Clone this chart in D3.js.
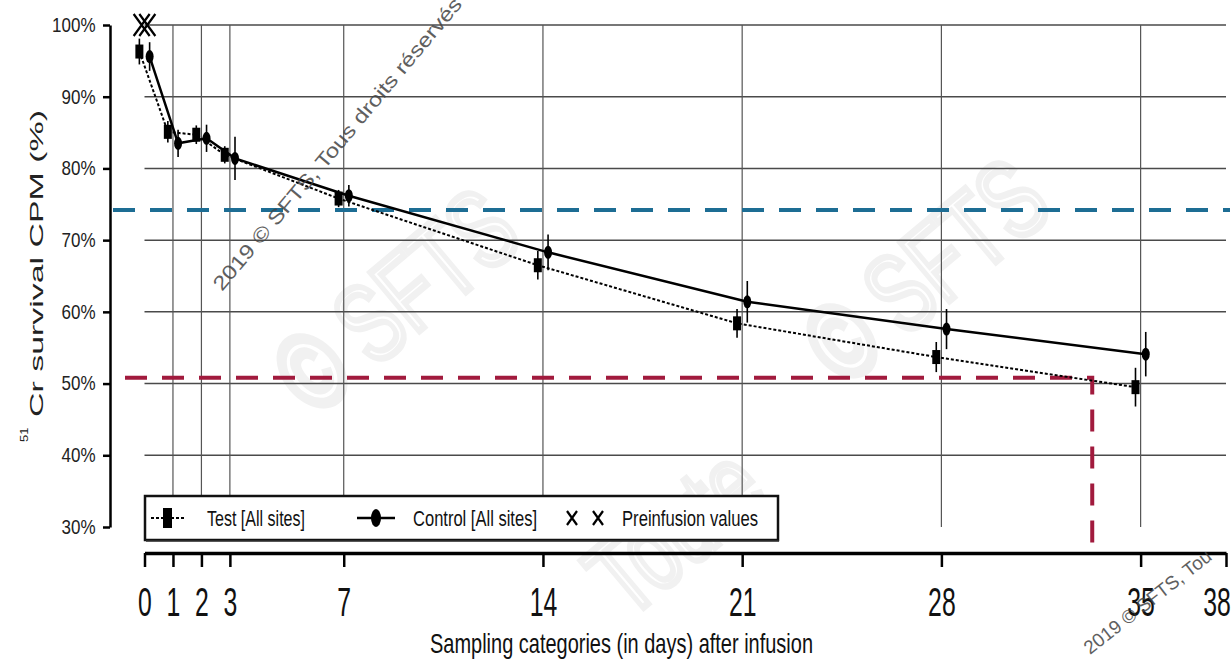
<!DOCTYPE html>
<html>
<head>
<meta charset="utf-8">
<script src="https://cdn.jsdelivr.net/npm/d3@7"></script>
<style>
  body { margin: 0; background: #fff; }
  svg { display: block; }
  text { font-family: "Liberation Sans Narrow", "Liberation Sans", Arial, sans-serif; fill: #111; }
</style>
</head>
<body>
<div id="chart"></div>
<script>

// sampling days
var days = [0, 1, 2, 3, 7, 14, 21, 28, 35];

// Test [All sites] - mean % and half error bar
var testMean = [96.3, 85.1, 84.7, 81.9, 75.8, 66.5, 58.4, 53.7, 49.5];
var testErr = [1.8, 1.5, 1.3, 1.2, 1.2, 2.0, 2.0, 2.1, 2.7];

// Control [All sites]
var ctrlMean = [95.6, 83.5, 84.2, 81.4, 76.2, 68.3, 61.4, 57.6, 54.1];
var ctrlErr = [2.0, 1.9, 1.9, 3.0, 1.5, 2.5, 2.9, 2.8, 3.1];

// preinfusion values (day 0)
var preDays = [0, 0];
var preValues = [100, 100];

var xTicks = [0, 1, 2, 3, 7, 14, 21, 28, 35, 38];
var yTicks = [30, 40, 50, 60, 70, 80, 90, 100];
var gridY = [40, 50, 60, 70, 80, 90, 100];
var gridX = [1, 2, 3, 7, 14, 21, 28, 35];

var blueRef = 74.2;
var redRef = 50.8;
var redDay = 33.3;

var width = 1231,
    height = 666;

var svg = d3.select("#chart").append("svg")
    .attr("width", width)
    .attr("height", height);

var x = d3.scaleLinear().domain([0, 38]).range([144.5, 1226]);
var y = d3.scaleLinear().domain([30, 100]).range([527, 25]);

var shift = 0.18; // side-by-side offset of the two groups

// faint background watermark
var wm = svg.append("g").attr("class", "watermark");
[[420, 330, "© SFTS"], [950, 300, "© SFTS"], [700, 560, "Toute"]].forEach(function(w){
    wm.append("text")
	.attr("transform", "translate(" + w[0] + "," + w[1] + ") rotate(-40) scale(0.7,1)")
	.attr("text-anchor", "middle")
	.style("font-family", "Liberation Sans, Arial, sans-serif")
	.style("font-size", "110px")
	.style("fill", "none")
	.style("stroke", "#f1f1f1")
	.style("stroke-width", 7)
	.text(w[2]);
});

// grid
var grid = svg.append("g").attr("class", "grid");
grid.selectAll(".hline")
    .data(gridY)
    .enter()
    .append("line")
    .attr("x1", x(0)).attr("x2", x(38))
    .attr("y1", function(d){ return y(d); })
    .attr("y2", function(d){ return y(d); })
    .style("stroke", "#4a4a4a")
    .style("stroke-width", 1.5);

grid.selectAll(".vline")
    .data(gridX)
    .enter()
    .append("line")
    .attr("x1", function(d){ return x(d); })
    .attr("x2", function(d){ return x(d); })
    .attr("y1", y(100)).attr("y2", y(30))
    .style("stroke", "#555")
    .style("stroke-width", 1.2);

// reference lines
svg.append("line")
    .attr("x1", 113).attr("x2", 1230)
    .attr("y1", y(blueRef)).attr("y2", y(blueRef))
    .style("stroke", "#1d6d94")
    .style("stroke-width", 4)
    .style("stroke-dasharray", "22,15");

svg.append("path")
    .attr("d", "M125," + y(redRef) + "H" + x(redDay) + "V548")
    .style("fill", "none")
    .style("stroke", "#a11a3d")
    .style("stroke-width", 4)
    .style("stroke-dasharray", "22,15");

// series
var series = [
    { name: "test", mean: testMean, err: testErr, dx: -shift, dash: "3,2", width: 2 },
    { name: "ctrl", mean: ctrlMean, err: ctrlErr, dx: shift, dash: null, width: 2.5 }
];

var line = d3.line()
    .x(function(d){ return x(d.day); })
    .y(function(d){ return y(d.v); });

series.forEach(function(s){
    var pts = days.map(function(d, i){
	return { day: d + s.dx, v: s.mean[i], e: s.err[i] };
    });
    var g = svg.append("g").attr("class", "series-" + s.name);

    g.append("path")
	.datum(pts)
	.attr("d", line)
	.style("fill", "none")
	.style("stroke", "#000")
	.style("stroke-width", s.width)
	.style("stroke-dasharray", s.dash);

    g.selectAll(".err")
	.data(pts)
	.enter()
	.append("line")
	.attr("x1", function(d){ return x(d.day); })
	.attr("x2", function(d){ return x(d.day); })
	.attr("y1", function(d){ return y(d.v + d.e); })
	.attr("y2", function(d){ return y(d.v - d.e); })
	.style("stroke", "#000")
	.style("stroke-width", 1.6);

    if (s.name == "test") {
	g.selectAll(".pt")
	    .data(pts)
	    .enter()
	    .append("rect")
	    .attr("x", function(d){ return x(d.day) - 4; })
	    .attr("y", function(d){ return y(d.v) - 7; })
	    .attr("width", 8)
	    .attr("height", 14)
	    .style("fill", "#000");
    } else {
	g.selectAll(".pt")
	    .data(pts)
	    .enter()
	    .append("ellipse")
	    .attr("cx", function(d){ return x(d.day); })
	    .attr("cy", function(d){ return y(d.v); })
	    .attr("rx", 4)
	    .attr("ry", 6.5)
	    .style("fill", "#000");
    }
});

// preinfusion crosses
var cross = function(g, cx, cy, w, h){
    g.append("path")
	.attr("d", "M" + (cx - w) + "," + (cy - h) + "L" + (cx + w) + "," + (cy + h) +
	      "M" + (cx + w) + "," + (cy - h) + "L" + (cx - w) + "," + (cy + h))
	.style("stroke", "#000")
	.style("stroke-width", 2.2)
	.style("fill", "none");
};
var pre = svg.append("g").attr("class", "pre");
preDays.forEach(function(d, i){
    var dx = i == 0 ? -0.1 : 0.1;
    cross(pre, x(d + dx), y(preValues[i]), 8, 11);
});

// legend
var leg = svg.append("g").attr("class", "legend");
leg.append("rect")
    .attr("x", 145).attr("y", 496)
    .attr("width", 633).attr("height", 44)
    .style("fill", "#fff")
    .style("stroke", "#111")
    .style("stroke-width", 2.5);
leg.append("line")
    .attr("x1", 146).attr("x2", 779)
    .attr("y1", 541).attr("y2", 541)
    .style("stroke", "#333").style("stroke-width", 1.5);

var ly = 518;
leg.append("line")
    .attr("x1", 151).attr("x2", 184).attr("y1", ly).attr("y2", ly)
    .style("stroke", "#000").style("stroke-width", 2).style("stroke-dasharray", "3,2");
leg.append("rect")
    .attr("x", 163).attr("y", ly - 10).attr("width", 9).attr("height", 20)
    .style("fill", "#000");
leg.append("line")
    .attr("x1", 357).attr("x2", 395).attr("y1", ly).attr("y2", ly)
    .style("stroke", "#000").style("stroke-width", 2.5);
leg.append("ellipse")
    .attr("cx", 376).attr("cy", ly).attr("rx", 5).attr("ry", 9)
    .style("fill", "#000");
cross(leg, 572, ly, 5, 7);
cross(leg, 598, ly, 5, 7);

var legText = [[207, 98, "Test [All sites]"], [413, 124, "Control [All sites]"], [622, 136, "Preinfusion values"]];
legText.forEach(function(t){
    leg.append("text")
	.attr("x", t[0]).attr("y", ly + 8)
	.attr("textLength", t[1])
	.attr("lengthAdjust", "spacingAndGlyphs")
	.style("font-size", "22px")
	.text(t[2]);
});

// axes
var xAxis = d3.axisBottom(x)
    .tickValues(xTicks)
    .tickSize(14)
    .tickSizeOuter(0)
    .tickPadding(21)
    .tickFormat(function(d){ return d; });

var xAxisG = svg.append("g")
    .attr("transform", "translate(0," + 553 + ")")
    .call(xAxis);
xAxisG.select(".domain").style("stroke", "#000").style("stroke-width", 3.5);
xAxisG.selectAll(".tick line").style("stroke", "#000").style("stroke-width", 2.5);
xAxisG.selectAll(".tick text")
    .attr("transform", "scale(0.62,1)")
    .style("font-size", "40px")
    .style("font-family", "Liberation Sans Narrow, Arial, sans-serif")
    .style("fill", "#111");
// last label sits against the right edge
xAxisG.selectAll(".tick text")
    .filter(function(d){ return d == 38; })
    .attr("text-anchor", "end")
    .attr("x", 7);

var yAxis = d3.axisLeft(y)
    .tickValues(yTicks)
    .tickSize(7)
    .tickSizeOuter(0)
    .tickPadding(10)
    .tickFormat(function(d){ return d + "%"; });

var yAxisG = svg.append("g")
    .attr("transform", "translate(110,0)")
    .call(yAxis);
yAxisG.select(".domain").style("stroke", "#000").style("stroke-width", 2.5);
yAxisG.selectAll(".tick line").style("stroke", "#000").style("stroke-width", 2.5);
yAxisG.selectAll(".tick text")
    .attr("transform", "scale(0.85,1)")
    .style("font-size", "20px")
    .style("font-family", "Liberation Sans Narrow, Arial, sans-serif")
    .style("fill", "#222");

// axis titles
svg.append("text")
    .attr("x", 430).attr("y", 653)
    .attr("textLength", 383)
    .attr("lengthAdjust", "spacingAndGlyphs")
    .style("font-size", "28px")
    .text("Sampling categories (in days) after infusion");

svg.append("text")
    .attr("transform", "translate(43,417) rotate(-90) scale(1,0.72)")
    .attr("textLength", 307)
    .attr("lengthAdjust", "spacingAndGlyphs")
    .style("font-family", "Liberation Sans, Arial, sans-serif")
    .style("font-size", "26px")
    .style("fill", "#222")
    .text("Cr survival CPM (%)");

svg.append("text")
    .attr("transform", "translate(28,442) rotate(-90) scale(1,0.8)")
    .style("font-family", "Liberation Sans, Arial, sans-serif")
    .style("font-size", "13px")
    .style("fill", "#222")
    .text("51");

// copyright stamps
svg.append("text")
    .attr("transform", "translate(222,292) rotate(-50)")
    .attr("textLength", 375)
    .attr("lengthAdjust", "spacingAndGlyphs")
    .style("font-family", "Liberation Sans, Arial, sans-serif")
    .style("font-size", "20px")
    .style("fill", "#444")
    .style("opacity", 0.85)
    .text("2019 © SFTS, Tous droits réservés");

svg.append("text")
    .attr("transform", "translate(1090,655) rotate(-38)")
    .style("font-family", "Liberation Sans, Arial, sans-serif")
    .style("font-size", "19px")
    .style("fill", "#444")
    .style("opacity", 0.85)
    .text("2019 © SFTS, Tou");

</script>
</body>
</html>
